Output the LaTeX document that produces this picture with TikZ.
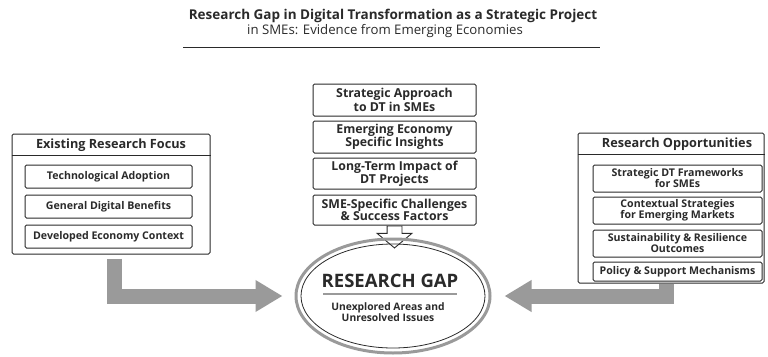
\documentclass[tikz,border=0pt]{standalone}
\usepackage{fontspec}
\setmainfont{Open Sans}
\usepackage{xcolor}
\definecolor{ink}{HTML}{2A2A2A}
\definecolor{bar}{HTML}{9A9A9A}
\usetikzlibrary{positioning,arrows.meta,shapes.geometric,shapes.arrows}
\tikzset{
  panel/.style={draw=ink, line width=1pt, rounded corners=1.5pt, inner sep=0pt},
  item/.style={draw=ink, line width=1pt, rounded corners=1.5pt, fill=white,
    text=ink, align=center, inner sep=0pt, font=\bfseries\fontsize{10.6}{11}\selectfont},
  bigitem/.style={item, font=\bfseries\fontsize{12.3}{12.2}\selectfont},
  heading/.style={text=ink, inner sep=0pt, font=\bfseries\fontsize{12.7}{13}\selectfont},
  flow/.style={draw=bar, line width=15pt, line join=miter,
    -{Triangle[width=30pt,length=27pt]}},
  hollow arrow/.style={single arrow, draw=ink, fill=white, line width=0.9pt,
    inner sep=7pt, minimum height=22pt, single arrow head extend=10pt,
    single arrow tip angle=100, shape border rotate=270},
}

\begin{document}
\begin{tikzpicture}[x=1pt,y=-1pt]
    \useasboundingbox (0,0) rectangle (768,356);

    % title
    \node[text=ink, font=\bfseries\fontsize{13.5}{15}\selectfont] (title) at (393,16)
        {Research Gap in Digital Transformation as a Strategic Project};
    \node[text=ink, font=\fontsize{13.2}{15}\selectfont] (subtitle) at (385,31)
        {in SMEs: Evidence from Emerging Economies};
    \draw[ink, line width=0.9pt] (183,47) -- (600,47);

    % existing research
    \node[panel, minimum width=198pt, minimum height=120pt] (lp) at (111,194) {};
    \node[heading] (lphead) at (111,145) {Existing Research Focus};
    \draw[ink, line width=1pt] ([yshift=-22pt]lp.north west) -- ([yshift=-22pt]lp.north east);
    \node[item, minimum width=167pt, minimum height=23pt] (adopt) at (108.5,176.5) {Technological Adoption};
    \node[item, minimum width=167pt, minimum height=23pt, below=6pt of adopt] (benefit) {General Digital Benefits};
    \node[item, minimum width=167pt, minimum height=23pt, below=6pt of benefit] (developed) {Developed Economy Context};

    % gap items in the middle
    \node[bigitem, minimum width=163pt, minimum height=32pt] (strategic) at (394.5,100) {Strategic Approach\\to DT in SMEs};
    \node[bigitem, minimum width=163pt, minimum height=32pt, below=4pt of strategic] (insight) {Emerging Economy\\Specific Insights};
    \node[bigitem, minimum width=163pt, minimum height=31pt, below=4pt of insight] (impact) {Long-Term Impact of\\DT Projects};
    \node[bigitem, minimum width=163pt, minimum height=30pt, below=5pt of impact] (sme) {SME-Specific Challenges\\\& Success Factors};
    \node[hollow arrow, anchor=tail] (down) at (sme.south) {};

    % research gap
    \node[ellipse, draw=bar, line width=3pt, minimum width=194pt, minimum height=114pt] (gap) at (393,296) {};
    \draw[ink, line width=0.8pt] (gap.center) ellipse [x radius=92, y radius=52];
    \node[text=ink, inner sep=0pt, font=\bfseries\fontsize{18.5}{20}\selectfont] (gaptitle) at (390,281) {RESEARCH GAP};
    \draw[bar, line width=1.2pt] (323,294) -- (457,294);
    \node[text=ink, align=center, inner sep=0pt, font=\bfseries\fontsize{10.3}{11}\selectfont] (gapnote) at (388,312)
        {Unexplored Areas and\\Unresolved Issues};

    % research opportunities
    \node[panel, minimum width=186pt, minimum height=150pt] (rp) at (671,208) {};
    \node[heading] (rphead) at (677,144) {Research Opportunities};
    \draw[ink, line width=1pt] ([yshift=-22pt]rp.north west) -- ([yshift=-22pt]rp.north east);
    \node[item, minimum width=169pt, minimum height=27pt] (framework) at (677.5,178.5) {Strategic DT Frameworks\\for SMEs};
    \node[item, minimum width=169pt, minimum height=27pt, below=4pt of framework] (context) {Contextual Strategies\\for Emerging Markets};
    \node[item, minimum width=169pt, minimum height=27pt, below=5pt of context] (resilience) {Sustainability \& Resilience\\Outcomes};
    \node[item, minimum width=169pt, minimum height=19pt, below=4pt of resilience] (policy) {Policy \& Support Mechanisms};

    % thick arrows into the gap
    \draw[flow, shorten <=4pt] ([xshift=3pt]lp.south) |- ([xshift=-12pt]gap.west);
    \draw[flow] ([xshift=-5pt]rp.south) |- ([xshift=13pt]gap.east);
\end{tikzpicture}
\end{document}
